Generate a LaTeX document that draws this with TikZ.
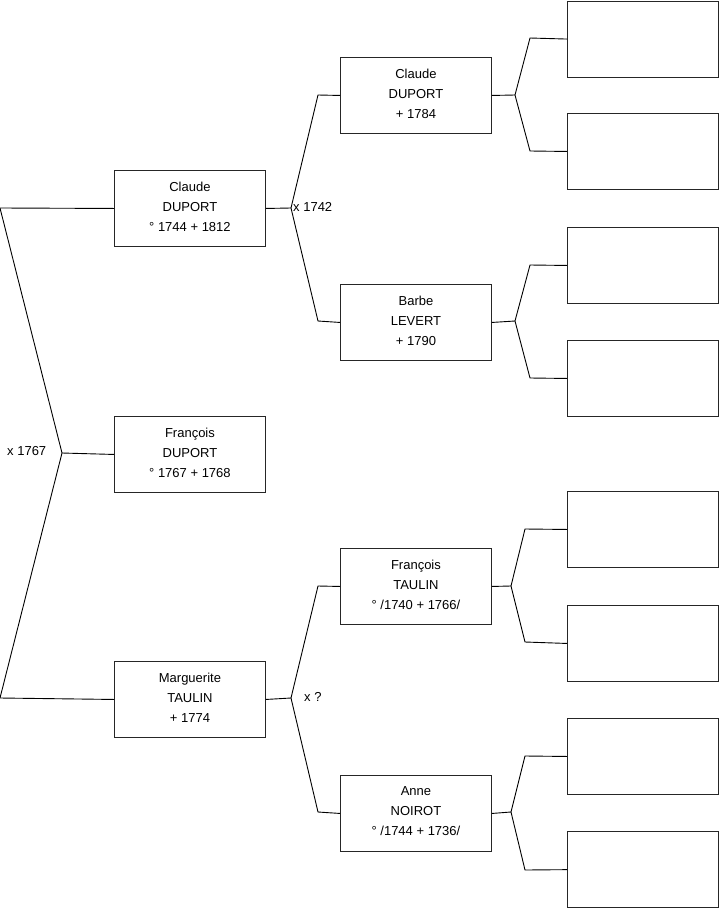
\documentclass[tikz,border=0pt]{standalone}
\usepackage{fontspec}
\setmainfont{Liberation Sans}
\begin{document}
\begin{tikzpicture}[x=1pt,y=-1pt,
  person/.style={draw=black!85,line width=0.9pt,minimum width=151pt,minimum height=76pt,inner sep=0pt,align=center,anchor=north west,font=\fontsize{13}{20}\selectfont},
  link/.style={draw=black,line width=0.9pt},
  lab/.style={font=\fontsize{13}{14}\selectfont,inner sep=0pt}]
\useasboundingbox (0,0) rectangle (719,908);
% generation 1
\node[person] (c1) at (114,170) {Claude\\DUPORT\\° 1744 + 1812\\[-16pt]};
\node[person] (f1) at (114,416) {François\\DUPORT\\° 1767 + 1768\\[-16pt]};
\node[person] (m1) at (114,661) {Marguerite\\TAULIN\\+ 1774\\[-16pt]};
% generation 2
\node[person] (c2) at (340,57) {Claude\\DUPORT\\+ 1784\\[-16pt]};
\node[person] (b2) at (340,284) {Barbe\\LEVERT\\+ 1790\\[-16pt]};
\node[person] (f2) at (340,548) {François\\TAULIN\\° /1740 + 1766/\\[-16pt]};
\node[person] (a2) at (340,775) {Anne\\NOIROT\\° /1744 + 1736/\\[-16pt]};
% generation 3 (empty)
\node[person] (e1) at (567,0.6) {};
\node[person] (e2) at (567,113) {};
\node[person] (e3) at (567,227) {};
\node[person] (e4) at (567,340) {};
\node[person] (e5) at (567,491) {};
\node[person] (e6) at (567,605) {};
\node[person] (e7) at (567,718) {};
\node[person] (e8) at (567,831.2) {};
% left bracket
\coordinate (L1) at (0,208);
\coordinate (L2) at (62,453);
\coordinate (L3) at (0,698);
\draw[link] (c1.west) -- (L1) -- (L2) -- (f1.west);
\draw[link] (L2) -- (L3) -- (m1.west);
\node[lab,anchor=west] (x1) at (7,451) {x 1767};
% parents of Claude
\coordinate (J1) at (291,208);
\draw[link] (c1.east) -- (J1) -- (318,95) -- (c2.west);
\draw[link] (J1) -- (318,321) -- (b2.west);
\node[lab,anchor=west] (x2) at (293,207) {x 1742};
% parents of Marguerite
\coordinate (J2) at (291,698);
\draw[link] (m1.east) -- (J2) -- (318,586) -- (f2.west);
\draw[link] (J2) -- (318,812) -- (a2.west);
\node[lab,anchor=west] (x3) at (304,697) {x ?};
% generation 3 brackets
\coordinate (K1) at (515,95);
\draw[link] (c2.east) -- (K1) -- (530,38) -- (e1.west);
\draw[link] (K1) -- (530,151) -- (e2.west);
\coordinate (K2) at (515,321);
\draw[link] (b2.east) -- (K2) -- (530,265) -- (e3.west);
\draw[link] (K2) -- (530,378) -- (e4.west);
\coordinate (K3) at (511,586);
\draw[link] (f2.east) -- (K3) -- (525,529) -- (e5.west);
\draw[link] (K3) -- (525,642) -- (e6.west);
\coordinate (K4) at (511,812);
\draw[link] (a2.east) -- (K4) -- (525,756) -- (e7.west);
\draw[link] (K4) -- (525,870) -- (e8.west);
\end{tikzpicture}
\end{document}
